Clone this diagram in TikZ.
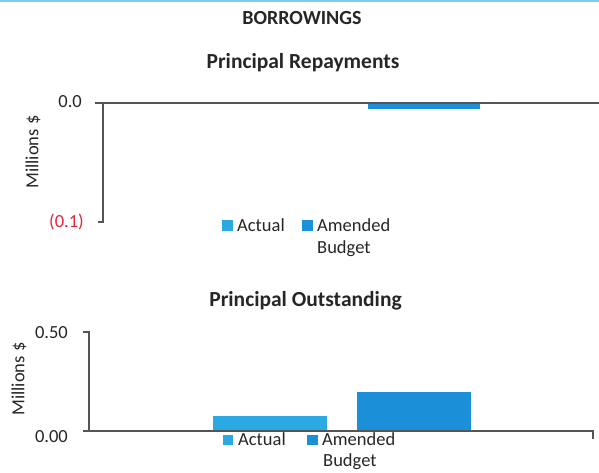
\documentclass[tikz,border=0pt]{standalone}
\usepackage{fontspec}
\setmainfont{Carlito}
\definecolor{actualc}{HTML}{2BA9E3}
\definecolor{amendc}{HTML}{1B8FD8}
\definecolor{axisc}{HTML}{555555}
\definecolor{negc}{HTML}{E8233C}
\definecolor{topline}{HTML}{7CCBF0}
\begin{document}
\begin{tikzpicture}[x=1pt,y=-1pt,
  every node/.style={inner sep=0pt},
  lbl/.style={font=\fontsize{18.5}{22}\selectfont, text=black!85},
  ttl/.style={font=\bfseries\fontsize{21.5}{26}\selectfont, text=black!85},
  ax/.style={draw=axisc, line width=1.3pt},
  actualbar/.style={fill=actualc},
  amendbar/.style={fill=amendc}]
\useasboundingbox (0,0) rectangle (599,472);
\draw[topline, line width=2.5pt] (0,1) -- (599,1);

% titles
\node[font=\bfseries\fontsize{20}{24}\selectfont, text=black!85, anchor=base] (main) at (302,24) {BORROWINGS};
\node[ttl, anchor=base] (t1) at (303,68) {Principal Repayments};
\node[ttl, anchor=base] (t2) at (305.5,306) {Principal Outstanding};

% chart 1
\fill[amendbar] (368,103) rectangle (480,108.5);
\draw[ax] (95,103) -- (599,103);
\draw[ax] (103,103) -- (103,222) -- (98,222);
\node[lbl, anchor=base east] (y10) at (82,107) {0.0};
\node[lbl, anchor=base east, text=negc] (y11) at (84,227.5) {(0.1)};
\node[lbl, rotate=90] (yl1) at (33,152) {Millions \$};
\fill[actualbar] (222,220) rectangle (233,231);
\node[lbl, anchor=base west] (la1) at (237,231) {Actual};
\fill[amendbar] (302,220) rectangle (313,231);
\node[lbl, anchor=base west] (lb1) at (317,231) {Amended};
\node[lbl, anchor=base west] (lc1) at (317,253) {Budget};

% chart 2
\fill[actualbar] (213,416) rectangle (327,431);
\fill[amendbar] (357,392) rectangle (471,431);
\draw[ax] (83,332) -- (89,332) -- (89,431);
\draw[ax] (83,431) -- (593,431) -- (593,439);
\node[lbl, anchor=base east] (y20) at (68,338) {0.50};
\node[lbl, anchor=base east] (y21) at (68,442) {0.00};
\node[lbl, rotate=90] (yl2) at (19,379) {Millions \$};
\fill[actualbar] (223,435) rectangle (233,445);
\node[lbl, anchor=base west] (la2) at (238,445) {Actual};
\fill[amendbar] (307,435) rectangle (318,445);
\node[lbl, anchor=base west] (lb2) at (322,445) {Amended};
\node[lbl, anchor=base west] (lc2) at (323,466) {Budget};
\end{tikzpicture}
\end{document}
